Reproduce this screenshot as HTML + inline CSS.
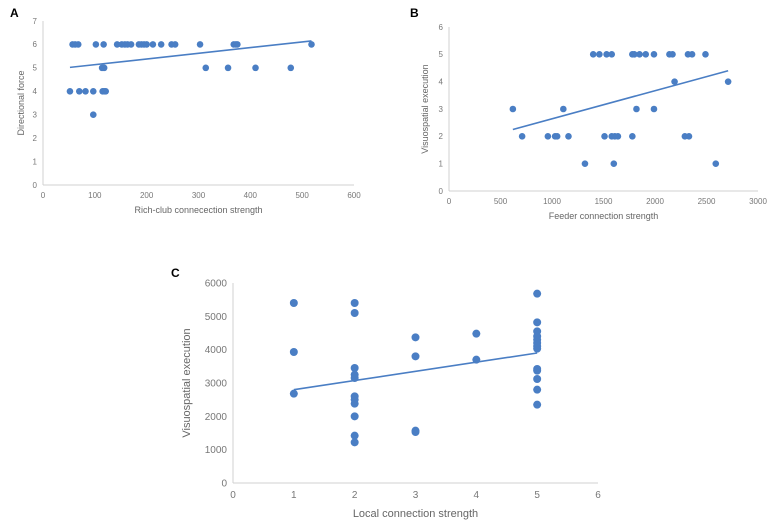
<!DOCTYPE html>
<html><head><meta charset="utf-8"><style>
body{margin:0;background:#fff;}
svg{display:block;font-family:"Liberation Sans",sans-serif;}
</style></head><body>
<svg id="s" width="767" height="525">
<text x="10" y="17" font-size="12" font-weight="bold">A</text>
<text x="410" y="17" font-size="12" font-weight="bold">B</text>
<text x="171" y="277" font-size="12" font-weight="bold">C</text>
</svg>
<script>
const aX=[57,62,68,102,117,143,152,158,163,170,185,190,195,200,212,228,248,255,303,368,372,375,518,114,118,314,357,410,478,52,70,82,97,115,118,121,97];
const aY=[6,6,6,6,6,6,6,6,6,6,6,6,6,6,6,6,6,6,6,6,6,6,6,5,5,5,5,5,5,4,4,4,4,4,4,4,3];
const aTrend=[[52,5.02],[518,6.15]];
const bX=[1400,1460,1530,1580,1780,1800,1850,1910,1990,2140,2170,2320,2360,2490,2190,2710,620,1110,1820,1990,710,960,1030,1050,1160,1510,1580,1610,1640,1780,2290,2330,1320,1600,2590];
const bY=[5,5,5,5,5,5,5,5,5,5,5,5,5,5,4,4,3,3,3,3,2,2,2,2,2,2,2,2,2,2,2,2,1,1,1];
const bTrend=[[620,2.25],[2710,4.4]];
const cX=[1,1,1,2,2,2,2,2,2,2,2,2,2,2,3,3,3,3,4,4,5,5,5,5,5,5,5,5,5,5,5,5,5];
const cY=[5400,3930,2680,5400,5100,3450,3250,3150,2600,2500,2380,2000,1420,1220,4370,3800,1570,1530,4480,3700,5680,4820,4550,4400,4300,4200,4100,4030,3420,3370,3120,2800,2350];
const cTrend=[[1,2800],[5,3900]];
const aXT=[0,100,200,300,400,500,600],aYT=[0,1,2,3,4,5,6,7];
const bXT=[0,500,1000,1500,2000,2500,3000],bYT=[0,1,2,3,4,5,6];
const cXT=[0,1,2,3,4,5,6],cYT=[0,1000,2000,3000,4000,5000,6000];
const svg=document.getElementById('s');
const NS='http://www.w3.org/2000/svg';
function mk(t,a){const e=document.createElementNS(NS,t);for(const k in a)e.setAttribute(k,a[k]);svg.appendChild(e);return e;}
function chart(p,xs,ys,tr,xt,yt,o){
 const sx=v=>o.x0+(v-xt[0])/(xt[xt.length-1]-xt[0])*(o.x1-o.x0);
 const sy=v=>o.y0-(v-yt[0])/(yt[yt.length-1]-yt[0])*(o.y0-o.y1);
 let l=mk('line',{x1:o.x0,y1:o.y0,x2:o.x1,y2:o.y0,stroke:'#d0d0d0'});
 
 
 l=mk('line',{x1:o.x0,y1:o.y0,x2:o.x0,y2:o.y1,stroke:'#d0d0d0'});
 
 
 xt.forEach(v=>{const t=mk('text',{x:sx(v),y:o.y0+o.fs+5,'font-size':o.fs,fill:'#777','text-anchor':'middle'});t.textContent=v;
  
  });
 yt.forEach(v=>{const t=mk('text',{x:o.x0-6,y:sy(v)+o.fs*0.35,'font-size':o.fs,fill:'#777','text-anchor':'end'});t.textContent=v;
  
  });
 let t=mk('text',{x:(o.x0+o.x1)/2,y:o.y0+o.fs+20+(o.fs>8?4:0),'font-size':o.ts,fill:'#666','text-anchor':'middle'});t.textContent=o.xl;
 
 
 const cy=(o.y0+o.y1)/2;
 t=mk('text',{x:o.yx,y:cy,'font-size':o.ts,fill:'#666','text-anchor':'middle',transform:`rotate(-90 ${o.yx} ${cy})`});t.textContent=o.yl;
 
 
 xs.forEach((v,i)=>{const c=mk('circle',{cx:sx(v),cy:sy(ys[i]),r:o.r,fill:'#4a7ec4'});
  
  });
 const ln=mk('line',{x1:sx(tr[0][0]),y1:sy(tr[0][1]),x2:sx(tr[1][0]),y2:sy(tr[1][1]),stroke:'#4a7ec4','stroke-width':1.6});
 
 
}
chart('a',aX,aY,aTrend,aXT,aYT,{x0:43,x1:354,y0:185,y1:21,fs:8,ts:9,r:3.3,xl:'Rich-club connecection strength',yl:'Directional force',yx:24});
chart('b',bX,bY,bTrend,bXT,bYT,{x0:449,x1:758,y0:191,y1:27,fs:8,ts:9,r:3.3,xl:'Feeder connection strength',yl:'Visuospatial execution',yx:428});
chart('c',cX,cY,cTrend,cXT,cYT,{x0:233,x1:598,y0:483,y1:283,fs:10,ts:11,r:4,xl:'Local connection strength',yl:'Visuospatial execution',yx:190});
</script>
</body></html>
